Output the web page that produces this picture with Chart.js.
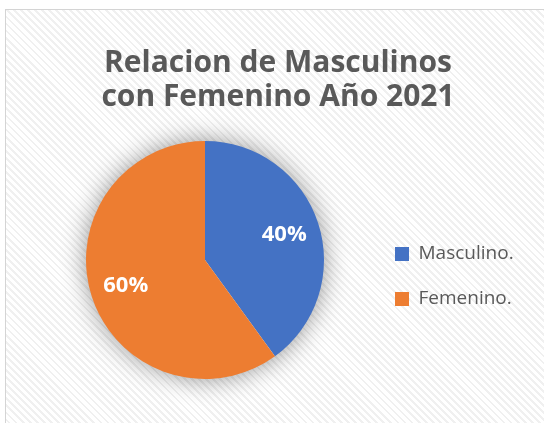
<!DOCTYPE html>
<html>
<head>
<meta charset="utf-8">
<script src="https://cdn.jsdelivr.net/npm/chart.js@4.4.1/dist/chart.umd.min.js"></script>
<style>
  html, body { margin: 0; padding: 0; background: #ffffff; width: 544px; height: 423px; overflow: hidden; }
  #frame {
    position: absolute; left: 5px; top: 9px; width: 620px; height: 500px;
    border: 1px solid #d4d4d4;
    background: repeating-linear-gradient(45deg, #ffffff 0px, #ffffff 3px, #f0f0f0 3px, #f0f0f0 5px);
  }
  #c { position: absolute; left: 0; top: 0; }
</style>
</head>
<body>
<div id="frame"></div>
<canvas id="c" width="544" height="423"></canvas>
<script>
const titleLines = ['Relacion de Masculinos', 'con Femenino Año 2021'];
const categories = ['Masculino.', 'Femenino.'];
const values = [40, 60];
const colors = ['#4472C4', '#ED7D31'];

const pieShadow = {
  id: 'pieShadow',
  beforeDatasetsDraw(chart) {
    const arc = chart.getDatasetMeta(0).data[0];
    if (!arc) return;
    const ctx = chart.ctx;
    ctx.save();
    ctx.shadowColor = 'rgba(0,0,0,0.45)';
    ctx.shadowBlur = 26;
    ctx.fillStyle = '#ffffff';
    ctx.beginPath();
    ctx.arc(arc.x, arc.y, arc.outerRadius - 1, 0, Math.PI * 2);
    ctx.fill();
    ctx.restore();
  }
};

const pctLabels = {
  id: 'pctLabels',
  afterDatasetsDraw(chart) {
    const meta = chart.getDatasetMeta(0);
    const data = chart.data.datasets[0].data;
    const total = data.reduce((a, b) => a + b, 0);
    const ctx = chart.ctx;
    ctx.save();
    ctx.fillStyle = '#ffffff';
    ctx.font = 'bold 22px "Open Sans"';
    ctx.textAlign = 'center';
    ctx.textBaseline = 'middle';
    meta.data.forEach((arc, i) => {
      const mid = (arc.startAngle + arc.endAngle) / 2;
      const r = arc.outerRadius * 0.7;
      const x = arc.x + Math.cos(mid) * r;
      const y = arc.y + Math.sin(mid) * r;
      ctx.fillText(Math.round(data[i] / total * 100) + '%', x, y);
    });
    ctx.restore();
  }
};

new Chart(document.getElementById('c'), {
  type: 'pie',
  data: {
    labels: categories,
    datasets: [{
      data: values,
      backgroundColor: colors,
      borderWidth: 0
    }]
  },
  options: {
    responsive: false,
    animation: false,
    devicePixelRatio: 1,
    layout: { padding: { top: 0, left: 41, right: 29, bottom: 44 } },
    plugins: {
      tooltip: { enabled: false },
      title: {
        display: true,
        text: titleLines,
        color: '#595959',
        font: { family: '"Open Sans"', size: 30, weight: 'bold', lineHeight: 34 / 30 },
        padding: { top: 46, bottom: 27 }
      },
      legend: {
        position: 'right',
        fullSize: false,
        maxWidth: 146,
        title: { display: true, text: '', padding: 0, font: { size: 33, lineHeight: 1 } },
        labels: {
          color: '#595959',
          font: { family: '"Open Sans"', size: 19 },
          boxWidth: 14,
          boxHeight: 14,
          padding: 26
        }
      }
    }
  },
  plugins: [pieShadow, pctLabels]
});
</script>
</body>
</html>
